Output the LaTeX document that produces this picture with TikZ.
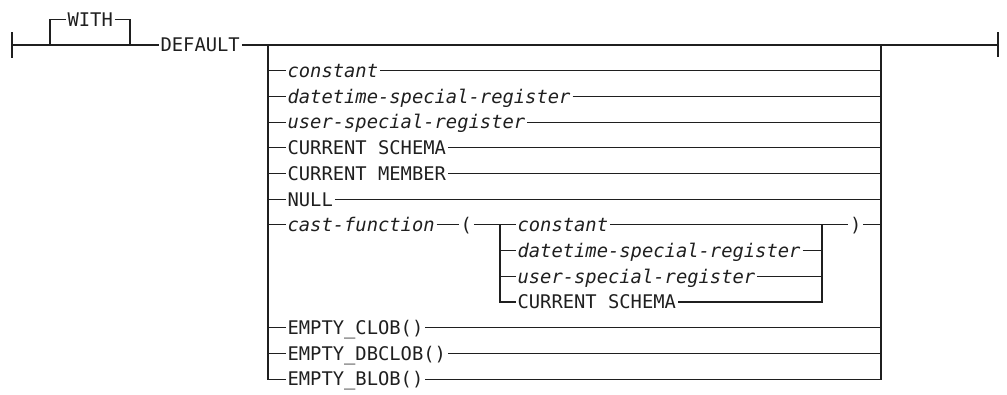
\documentclass[tikz,border=0pt]{standalone}
\usepackage{fontspec}
\newfontfamily\rr{DejaVu Sans Mono}
\begin{document}
\begin{tikzpicture}[x=1pt,y=-1pt,line width=1.1pt,draw=black!88,
  lbl/.style={anchor=west,inner xsep=1.5pt,inner ysep=0pt,text height=13.7pt,text depth=0pt,
    font=\rr\fontsize{18.8pt}{20pt}\selectfont,text=black!88},
  ilbl/.style={lbl,font=\rr\itshape\fontsize{18.8pt}{20pt}\selectfont},
  bar/.style={draw,line width=1.1pt}]
\useasboundingbox (0,0) rectangle (1007,395);
% main line coordinates
\coordinate (s) at (12,45);
\coordinate (wl) at (50,45);
\coordinate (wr) at (130,45);
\coordinate (cl) at (268,45);
\coordinate (cr) at (881,45);
\coordinate (e) at (998,45);
\coordinate (il) at (500,224.9);
\coordinate (ir) at (822,224.9);
% end bars
\draw ([yshift=-13pt]s) -- ([yshift=13pt]s);
\draw ([yshift=-12pt]e) -- ([yshift=13pt]e);
% WITH optional
\node[lbl] (with) at (65.5,19.5) {WITH};
\draw (wl) |- (with.west);
\draw (with.east) -| (wr);
% DEFAULT
\node[lbl] (def) at (158.5,45) {DEFAULT};
\draw (s) -- (def.west);
\draw (def.east) -- (e);
% choices
\node[ilbl] (b1) at (285.5,70.7) {constant};
\node[ilbl] (b2) at (285.5,96.4) {datetime-special-register};
\node[ilbl] (b3) at (285.5,122.1) {user-special-register};
\node[lbl] (b4) at (285.5,147.8) {CURRENT SCHEMA};
\node[lbl] (b5) at (285.5,173.5) {CURRENT MEMBER};
\node[lbl] (b6) at (285.5,199.2) {NULL};
\node[ilbl] (b7) at (285.5,224.9) {cast-function};
\node[lbl] (b11) at (285.5,327.7) {EMPTY\_CLOB()};
\node[lbl] (b12) at (285.5,353.4) {EMPTY\_DBCLOB()};
\node[lbl] (b13) at (285.5,379.1) {EMPTY\_BLOB()};
\foreach \n in {b1,b2,b3,b4,b5,b6,b11,b12}{
  \draw (\n.west -| cl) -- (\n.west);
  \draw (\n.east) -- (\n.east -| cr);
}
\draw (cl) -- (cl |- b13.west) -- (b13.west);
\draw (b13.east) -- (b13.east -| cr) -- (cr);
% cast-function
\node[lbl] (lp) at (458.5,224.9) {(};
\node[lbl] (rp) at (848,224.9) {)};
\node[ilbl] (i1) at (515.5,224.9) {constant};
\node[ilbl] (i2) at (515.5,250.6) {datetime-special-register};
\node[ilbl] (i3) at (515.5,276.3) {user-special-register};
\node[lbl] (i4) at (515.5,302) {CURRENT SCHEMA};
\draw (b7.west -| cl) -- (b7.west);
\draw (b7.east) -- (lp.west);
\draw (lp.east) -- (i1.west);
\draw (i1.east) -- (rp.west);
\draw (rp.east) -- (rp.east -| cr);
\draw (il) -- (il |- i4.west) -- (i4.west);
\draw (i4.east) -- (i4.east -| ir) -- (ir);
\foreach \n in {i2,i3}{
  \draw (\n.west -| il) -- (\n.west);
  \draw (\n.east) -- (\n.east -| ir);
}
\end{tikzpicture}
\end{document}
